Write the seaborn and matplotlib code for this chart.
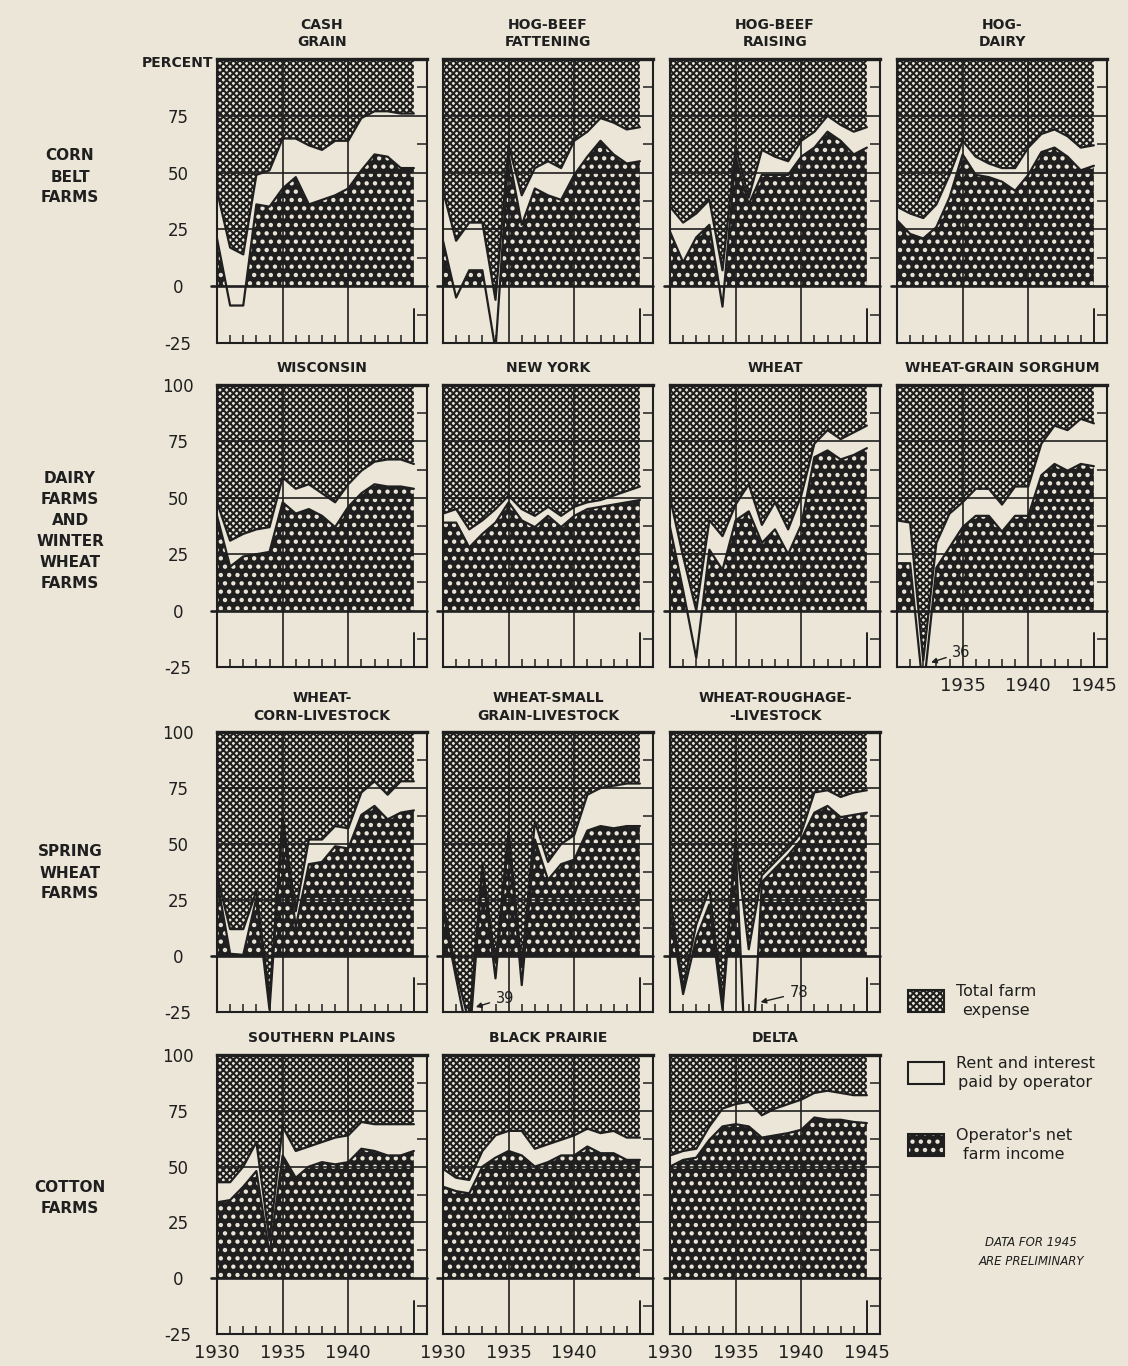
import numpy as np
import pandas as pd
import matplotlib
matplotlib.use('Agg')
import matplotlib.pyplot as plt
from matplotlib.patches import Rectangle
import seaborn as sns

# years on every panel
YEARS = np.arange(1930, 1946)

# upper line = net income + rent and interest, lower line = net income (percent)
cash_grain_upper = [42, 17, 14, 49, 51, 65, 65, 62, 60, 64, 64, 74, 77, 77, 76, 76]
cash_grain_lower = [21, -8.5, -8.5, 36, 35, 43, 48, 36, 38, 40, 43, 51, 58, 57, 52, 52]
hog_fat_upper = [42, 20, 28, 28, -6, 62, 40, 52, 55, 52, 64, 68, 74, 72, 69, 70]
hog_fat_lower = [20, -5, 7, 7, -28, 58, 27, 43, 40, 38, 49, 57, 64, 58, 54, 55]
hog_raise_upper = [35, 28, 32, 38, 7, 61, 39, 60, 57, 55, 64, 68, 75, 71, 68, 70]
hog_raise_lower = [24, 10.5, 21.5, 27, -9, 57, 36, 49, 49, 49, 57, 61, 68, 64, 58, 61]
hog_dairy_upper = [35, 32, 30, 36, 49, 64, 57, 54, 52, 52, 61, 67, 69, 66, 61, 62]
hog_dairy_lower = [29, 23, 21, 26, 39, 58, 49, 48, 46, 42, 49, 59, 61, 57, 51, 53]

wisconsin_upper = [48, 31, 34, 36, 37, 59, 54, 56, 52, 48, 56, 62, 66, 67, 67, 65]
wisconsin_lower = [42, 19.5, 24, 25, 26, 48, 43, 45, 42, 37, 46, 52, 56, 55, 55, 54]
new_york_upper = [43, 45, 36, 40, 45, 51, 45, 42, 46, 42, 46, 48, 49, 51, 53, 55]
new_york_lower = [39, 39, 28, 34, 39, 48, 40, 37, 42, 37, 42, 45, 46, 47, 48, 49]
wheat_upper = [50, 24, 0, 40, 33, 47, 56, 38, 48, 36, 51, 74, 80, 76, 79, 82]
wheat_lower = [37, 9, -21, 27, 18, 40, 44, 30, 36, 25, 38, 68, 71, 67, 69, 72]
wgs_upper = [40, 39, -22, 30, 43, 48, 54, 54, 47, 55, 55, 74, 82, 80, 85, 83]
wgs_lower = [21, 21, -36, 19, 28, 37, 42, 42, 35, 42, 42, 60, 65, 62, 65, 64]

wcl_upper = [36, 12, 12, 29, -19, 62, 20, 52, 52, 58, 57, 73, 78, 72, 78, 78]
wcl_lower = [34, 1, 0.5, 26, -24, 60, 13, 41, 42, 49, 48, 63, 67, 61, 64, 65]
wsgl_upper = [24, -7, -30, 41, -3, 56, -5, 60, 42, 50, 54, 72, 75, 76, 77, 77]
wsgl_lower = [20, -10, -39, 38, -10, 54, -13, 52, 34, 41, 43, 56, 58, 57, 58, 58]
wrl_upper = [26, -14, 14, 30, -20, 52, 3, 36, 42, 48, 55, 73, 74, 71, 73, 74]
wrl_lower = [20, -17, 8, 23, -24, 49, -78, 33, 39, 45, 52, 64, 67, 62, 63, 64]

south_plains_upper = [43, 43, 50, 61, 17, 68, 57, 59, 61, 63, 64, 70, 69, 69, 69, 69]
south_plains_lower = [34, 35, 41, 48, 11, 55, 45, 50, 52, 51, 52, 58, 57, 55, 55, 57]
black_prairie_upper = [49, 45, 44, 57, 64, 66, 66, 58, 60, 62, 64, 67, 65, 66, 63, 63]
black_prairie_lower = [41, 39, 38, 50, 54, 57, 55, 50, 52, 55, 55, 59, 56, 56, 53, 53]
delta_upper = [55, 57, 58, 68, 76, 78, 79, 73, 76, 78, 80, 83, 84, 83, 82, 82]
delta_lower = [50, 53, 54, 62, 68, 69, 68, 63, 64, 65, 66.5, 72, 71, 71, 70, 69.5]

# row, col, title, upper, lower
PANELS = [
    (0, 0, 'CASH\nGRAIN', cash_grain_upper, cash_grain_lower),
    (0, 1, 'HOG-BEEF\nFATTENING', hog_fat_upper, hog_fat_lower),
    (0, 2, 'HOG-BEEF\nRAISING', hog_raise_upper, hog_raise_lower),
    (0, 3, 'HOG-\nDAIRY', hog_dairy_upper, hog_dairy_lower),
    (1, 0, 'WISCONSIN', wisconsin_upper, wisconsin_lower),
    (1, 1, 'NEW YORK', new_york_upper, new_york_lower),
    (1, 2, 'WHEAT', wheat_upper, wheat_lower),
    (1, 3, 'WHEAT-GRAIN SORGHUM', wgs_upper, wgs_lower),
    (2, 0, 'WHEAT-\nCORN-LIVESTOCK', wcl_upper, wcl_lower),
    (2, 1, 'WHEAT-SMALL\nGRAIN-LIVESTOCK', wsgl_upper, wsgl_lower),
    (2, 2, 'WHEAT-ROUGHAGE-\n-LIVESTOCK', wrl_upper, wrl_lower),
    (3, 0, 'SOUTHERN PLAINS', south_plains_upper, south_plains_lower),
    (3, 1, 'BLACK PRAIRIE', black_prairie_upper, black_prairie_lower),
    (3, 2, 'DELTA', delta_upper, delta_lower),
]

ROW_LABELS = ['CORN\nBELT\nFARMS', 'DAIRY\nFARMS\nAND\nWINTER\nWHEAT\nFARMS',
              'SPRING\nWHEAT\nFARMS', 'COTTON\nFARMS']
YEAR_LABELS = ['1930', '1935', '1940', '1945']
PCT_LABELS = ['-25', '0', '25', '50', '75', '100']

PAPER = '#ebe6d8'
DARK = '#1f1f1f'
W, H = 1128, 1366
CROSS, CROSS_LW = 'xxxxx', 1.5
DOTS, DOTS_LW = '..', 1.9

# panel geometry in pixels
COL_LEFT = [217, 443, 670, 897]
PANEL_W = 210
ROW_SPAN = [(59, 343), (385, 667), (732, 1012), (1055, 1334)]
ROW_LABEL_Y = [177, 531, 873, 1198]


def fig_rect(left, top, width, height):
    return [left / W, 1 - (top + height) / H, width / W, height / H]


def hatch_lw(artist, lw):
    # hatch width is taken per artist in recent matplotlib
    if hasattr(artist, 'set_hatch_linewidth'):
        artist.set_hatch_linewidth(lw)
    return artist


def draw_panel(ax, upper, lower):
    df = pd.DataFrame({'year': YEARS, 'upper': upper, 'lower': lower})
    ax.set_facecolor(PAPER)
    # total farm expense: cross hatch above the upper line
    plt.rcParams['hatch.linewidth'] = CROSS_LW
    hatch_lw(ax.fill_between(df['year'], df['upper'], 100, facecolor=PAPER, edgecolor=DARK,
                             hatch=CROSS, linewidth=0, zorder=1), CROSS_LW)
    # operator's net income: dark with white dots
    plt.rcParams['hatch.linewidth'] = DOTS_LW
    hatch_lw(ax.fill_between(df['year'], 0, df['lower'], where=df['lower'] > 0,
                             interpolate=True, facecolor=DARK, edgecolor=PAPER,
                             hatch=DOTS, linewidth=0, zorder=1), DOTS_LW)
    for col in ['upper', 'lower']:
        sns.lineplot(data=df, x='year', y=col, ax=ax, color=DARK, lw=1.6, zorder=2)
    # grid
    for v in (25, 50, 75):
        ax.axhline(v, color=DARK, lw=1.2, zorder=3)
    ax.axhline(0, xmin=-0.03, color=DARK, lw=1.9, zorder=3, clip_on=False)
    for v in (1935, 1940):
        ax.axvline(v, color=DARK, lw=1.2, zorder=3)
    ax.axvline(1945, ymax=0.12, color=DARK, lw=1.4, zorder=3)

    ax.set_xlim(1930, 1946)
    ax.set_ylim(-25, 100)
    ax.set_xlabel('')
    ax.set_ylabel('')
    ax.set_xticks([1930, 1935, 1940, 1945])
    ax.set_xticks(np.arange(1931, 1945), minor=True)
    ax.set_yticks([-25, 0, 25, 50, 75, 100])
    ax.set_yticks([-12.5, 12.5, 37.5, 62.5, 87.5], minor=True)
    ax.tick_params(axis='x', which='major', length=0, labelbottom=False,
                   labelsize=13, pad=7, colors=DARK)
    ax.tick_params(axis='x', which='minor', direction='in', length=6, width=1.1,
                   color=DARK, bottom=True, top=False)
    ax.tick_params(axis='y', which='major', length=0, labelleft=False,
                   labelsize=12, pad=28, colors=DARK)
    ax.tick_params(axis='y', which='minor', direction='in', length=7, width=1.1,
                   color=DARK, left=False, right=True)
    for s in ax.spines.values():
        s.set_visible(True)
        s.set_color(DARK)
        s.set_linewidth(1.5)
    ax.spines['top'].set_linewidth(2.4)
    ax.set_axisbelow(False)


def main():
    sns.set_theme(style='white')
    plt.rcParams['font.family'] = ['DejaVu Sans']
    plt.rcParams['text.color'] = DARK

    fig = plt.figure(figsize=(W / 100, H / 100), dpi=100)
    fig.patch.set_facecolor(PAPER)

    axes = {}
    for row, col, title, upper, lower in PANELS:
        top, bottom = ROW_SPAN[row]
        ax = fig.add_axes(fig_rect(COL_LEFT[col], top, PANEL_W, bottom - top))
        draw_panel(ax, upper, lower)
        ax.set_title(title, fontsize=10, fontweight='bold', pad=9, linespacing=1.3,
                     color=DARK)
        axes[(row, col)] = ax

    # y labels on first column
    for row in range(4):
        ax = axes[(row, 0)]
        labels = PCT_LABELS[:-1] + [''] if row == 0 else PCT_LABELS
        ax.set_yticklabels(labels)
        ax.tick_params(axis='y', which='major', labelleft=True)
        for lab in ax.get_yticklabels():
            lab.set_horizontalalignment('center')
    axes[(0, 0)].text(-0.02, 0.985, 'PERCENT', transform=axes[(0, 0)].transAxes,
                      ha='right', va='center', fontsize=10, fontweight='bold')

    # year labels
    for key, labels in [((3, 0), YEAR_LABELS[:3] + ['']), ((3, 1), YEAR_LABELS[:3] + ['']),
                        ((3, 2), YEAR_LABELS), ((1, 3), [''] + YEAR_LABELS[1:])]:
        ax = axes[key]
        ax.set_xticklabels(labels)
        ax.tick_params(axis='x', which='major', labelbottom=True)

    # off-scale values
    arrow = dict(arrowstyle='-|>', color=DARK, lw=1.0, shrinkA=2, shrinkB=0, mutation_scale=8)
    axes[(1, 3)].annotate('36', xy=(1932.6, -23), xytext=(1934.2, -18.6), ha='left',
                          va='center', fontsize=10.5, arrowprops=arrow)
    axes[(2, 1)].annotate('39', xy=(1932.5, -22.8), xytext=(1934.0, -18.8), ha='left',
                          va='center', fontsize=10.5, arrowprops=arrow)
    axes[(2, 2)].annotate('78', xy=(1936.9, -20.6), xytext=(1939.1, -16.5), ha='left',
                          va='center', fontsize=10.5, arrowprops=arrow)

    # row labels
    for y, text in zip(ROW_LABEL_Y, ROW_LABELS):
        fig.text(70 / W, 1 - y / H, text, ha='center', va='center', fontsize=11,
                 fontweight='bold', linespacing=1.5)

    # legend
    boxes = [
        (1001, dict(facecolor=PAPER, edgecolor=DARK, hatch=CROSS), CROSS_LW,
         'Total farm\nexpense'),
        (1073, dict(facecolor=PAPER, edgecolor=DARK), CROSS_LW,
         'Rent and interest\npaid by operator'),
        (1145, dict(facecolor=DARK, edgecolor=PAPER, hatch=DOTS), DOTS_LW,
         "Operator's net\nfarm income"),
    ]
    for yc, style, lw, text in boxes:
        rect = fig_rect(908, yc - 11, 36, 22)
        plt.rcParams['hatch.linewidth'] = lw
        patch = Rectangle((rect[0], rect[1]), rect[2], rect[3],
                          transform=fig.transFigure, linewidth=0, **style)
        fig.add_artist(hatch_lw(patch, lw))
        fig.add_artist(Rectangle((rect[0], rect[1]), rect[2], rect[3],
                                 transform=fig.transFigure, fill=False,
                                 edgecolor=DARK, linewidth=1.5))
        fig.text(956 / W, 1 - yc / H, text, ha='left', va='center', fontsize=11.5,
                 multialignment='center', linespacing=1.3)
    fig.text(1031 / W, 1 - 1252 / H, 'DATA FOR 1945\nARE PRELIMINARY', ha='center',
             va='center', fontsize=8.5, style='italic', linespacing=1.6)

    fig.savefig('out.png', dpi=100, facecolor=PAPER)


if __name__ == '__main__':
    main()
